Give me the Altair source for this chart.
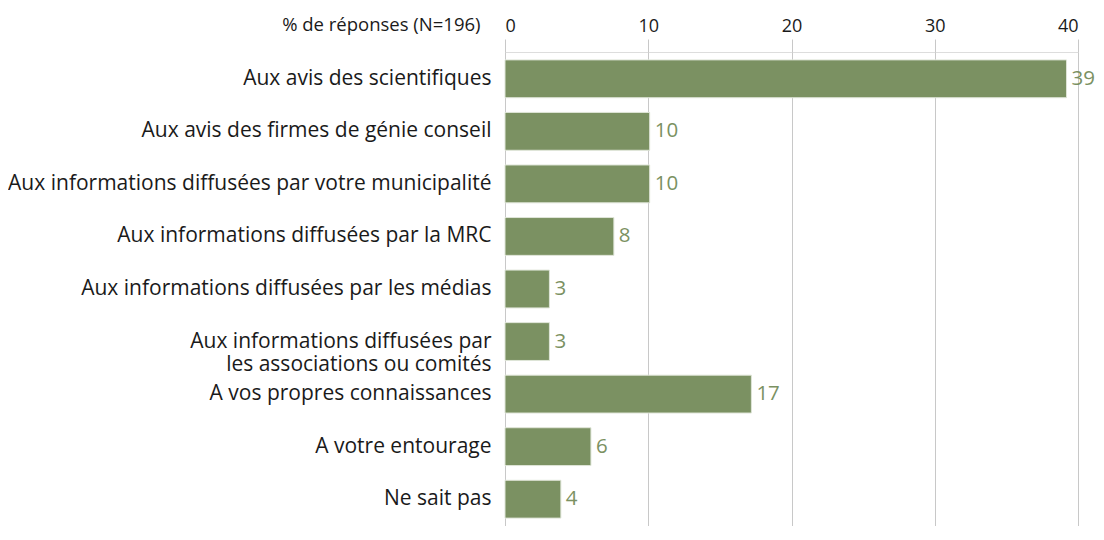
import altair as alt
import pandas as pd

categories = [
    "Aux avis des scientifiques",
    "Aux avis des firmes de génie conseil",
    "Aux informations diffusées par votre municipalité",
    "Aux informations diffusées par la MRC",
    "Aux informations diffusées par les médias",
    "Aux informations diffusées par|les associations ou comités",
    "A vos propres connaissances",
    "A votre entourage",
    "Ne sait pas",
]
values = [39.2, 10.1, 10.1, 7.6, 3.1, 3.1, 17.2, 6.0, 3.9]
labels = ["39", "10", "10", "8", "3", "3", "17", "6", "4"]

df = pd.DataFrame({"cat": categories, "val": values, "lab": labels})

GREEN = "#7b9162"
FONT = "Open Sans"
INK = "#1a1a1a"

y = alt.Y("cat:N", sort=categories, title=None,
          scale=alt.Scale(paddingInner=0.28, paddingOuter=0.15),
          axis=alt.Axis(labelExpr="split(datum.label, '|')", labelFontSize=21,
                        labelFont=FONT, labelColor=INK, labelPadding=14,
                        ticks=False, domain=False, labelLimit=700, labelLineHeight=23))
x = alt.X("val:Q", title="% de réponses (N=196)",
          scale=alt.Scale(domain=[0, 40], nice=False),
          axis=alt.Axis(orient="top", values=[0, 10, 20, 30, 40], grid=True,
                        gridColor="#c8c8c8", domain=False, tickColor="#c8c8c8",
                        tickSize=13, labelFontSize=18, labelFont=FONT,
                        labelColor=INK, labelPadding=4,
                        titleFont=FONT, titleFontSize=18.5, titleFontWeight="normal",
                        titleColor=INK, titleAlign="right", titleAnchor="start",
                        titleX=-25, titleY=-28, titleBaseline="middle"))

bars = alt.Chart(df).mark_bar(color=GREEN, stroke="#dfe5d8", strokeWidth=1).encode(x=x, y=y)
text = alt.Chart(df).mark_text(align="left", dx=5, color=GREEN, fontSize=20.5, font=FONT).encode(
    x="val:Q", y=alt.Y("cat:N", sort=categories), text="lab:N")

chart = (bars + text).properties(
    width=573, height=474,
    autosize=alt.AutoSizeParams(type="none"),
    padding={"left": 497, "top": 44, "right": 18, "bottom": 0},
).configure_view(stroke=None).configure(background="white")

chart.save("out.html", embed_options={"renderer": "svg", "actions": False})
